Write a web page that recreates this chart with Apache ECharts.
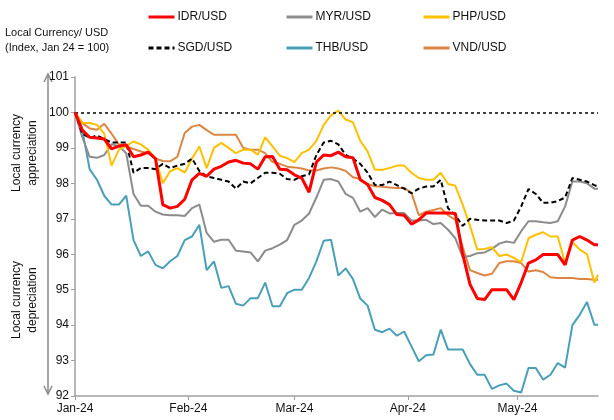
<!DOCTYPE html>
<html><head><meta charset="utf-8">
<script src="https://cdn.jsdelivr.net/npm/echarts@6/dist/echarts.min.js"></script>
<style>html,body{margin:0;padding:0;background:#fff}#c{width:614px;height:420px}</style>
</head><body><div id="c"></div>
<script>
const dates = [
 '2024-01-01','2024-01-03','2024-01-05','2024-01-07','2024-01-09','2024-01-11','2024-01-13','2024-01-15','2024-01-17','2024-01-19','2024-01-21','2024-01-23',
 '2024-01-25','2024-01-27','2024-01-29','2024-01-31','2024-02-02','2024-02-04','2024-02-06','2024-02-08','2024-02-10','2024-02-12','2024-02-14','2024-02-16',
 '2024-02-18','2024-02-20','2024-02-22','2024-02-24','2024-02-26','2024-02-28','2024-03-01','2024-03-03','2024-03-05','2024-03-07','2024-03-09','2024-03-11',
 '2024-03-13','2024-03-15','2024-03-17','2024-03-19','2024-03-21','2024-03-23','2024-03-25','2024-03-27','2024-03-29','2024-03-31','2024-04-02','2024-04-04',
 '2024-04-06','2024-04-08','2024-04-10','2024-04-12','2024-04-14','2024-04-16','2024-04-18','2024-04-20','2024-04-22','2024-04-24','2024-04-26','2024-04-28',
 '2024-04-30','2024-05-02','2024-05-04','2024-05-06','2024-05-08','2024-05-10','2024-05-12','2024-05-14','2024-05-16','2024-05-18','2024-05-20','2024-05-22',
 '2024-05-23'
];
const IDR = [
 100, 99.5, 99.3, 99.28, 99.25, 98.97, 99.05, 99.09, 98.75, 98.8, 98.88, 98.7,
 97.4, 97.3, 97.35, 97.55, 98.1, 98.28, 98.2, 98.4, 98.48, 98.6, 98.65, 98.57,
 98.55, 98.4, 98.75, 98.76, 98.4, 98.38, 98.24, 98.15, 97.75, 98.6, 98.8, 98.78,
 98.88, 98.75, 98.72, 98.1, 97.97, 97.6, 97.52, 97.4, 97.12, 97.1, 96.85, 96.97,
 97.16, 97.16, 97.16, 97.16, 97.15, 96.0, 95.15, 94.75, 94.72, 95.0, 95.0, 95.0,
 94.72, 95.2, 95.75, 95.84, 95.99, 95.99, 95.99, 95.7, 96.4, 96.5, 96.4, 96.27,
 96.27
];
const MYR = [
 100, 99.3, 98.75, 98.72, 98.8, 99.1, 99.05, 98.85, 97.7, 97.37, 97.37, 97.2,
 97.12, 97.1, 97.1, 97.08, 97.3, 97.4, 96.6, 96.35, 96.41, 96.41, 96.1, 96.08,
 96.05, 95.8, 96.1, 96.17, 96.27, 96.4, 96.83, 96.95, 97.15, 97.6, 98.1, 98.12,
 98.05, 97.7, 97.59, 97.2, 97.3, 97.05, 97.26, 97.15, 97.16, 97.16, 96.95, 96.95,
 96.97, 96.85, 96.88, 96.69, 96.45, 95.92, 95.95, 96.03, 96.05, 96.15, 96.3, 96.36,
 96.32, 96.65, 96.93, 96.93, 96.9, 96.88, 96.93, 97.35, 98.05, 98.05, 98.0, 97.85,
 97.85
];
const PHP = [
 100, 99.7, 99.7, 99.65, 99.4, 98.5, 98.95, 99.05, 99.18, 99.1, 98.95, 98.7,
 98.0, 98.34, 98.43, 98.3, 98.7, 99.04, 98.43, 99.0, 99.14, 99.0, 98.85, 98.95,
 98.95, 98.81, 99.3, 99.04, 98.78, 98.71, 98.6, 98.85, 98.95, 99.2, 99.65, 99.92,
 100.05, 99.8, 99.72, 99.2, 98.9, 98.38, 98.38, 98.43, 98.5, 98.5, 98.3, 98.15,
 98.1, 98.1, 98.3, 97.98, 97.93, 97.4, 96.8, 96.13, 96.15, 96.2, 95.95, 95.99,
 95.9, 95.78, 96.45, 96.55, 96.62, 96.5, 96.5, 95.75, 96.35, 96.13, 96.0, 95.2,
 95.42
];
const SGD = [
 100, 99.4, 99.28, 99.35, 99.25, 99.15, 99.15, 99.15, 98.3, 98.43, 98.43, 98.4,
 98.55, 98.43, 98.5, 98.55, 98.7, 98.35, 98.2, 98.15, 98.1, 98.05, 97.85, 98.05,
 98.0, 98.15, 98.3, 98.3, 98.27, 98.12, 98.1, 98.2, 98.25, 98.8, 99.15, 99.2,
 99.1, 98.8, 98.7, 98.55, 98.3, 97.95, 97.95, 98.05, 97.95, 97.85, 97.72, 97.85,
 97.91, 97.91, 98.1, 97.3, 97.1, 96.8, 97.0, 96.97, 96.95, 96.95, 96.95, 96.88,
 96.95, 97.35, 97.84, 97.7, 97.45, 97.45, 97.5, 97.6, 98.15, 98.1, 98.05, 97.95,
 97.91
];
const THB = [
 100, 99.5, 98.4, 98.1, 97.65, 97.4, 97.4, 97.65, 96.4, 95.95, 96.08, 95.7,
 95.6, 95.8, 95.95, 96.4, 96.5, 96.83, 95.55, 95.8, 95.05, 95.1, 94.6, 94.55,
 94.76, 94.76, 95.2, 94.53, 94.53, 94.9, 95.0, 95.0, 95.33, 95.8, 96.38, 96.41,
 95.4, 95.6, 95.3, 94.75, 94.55, 93.87, 93.8, 93.9, 93.7, 93.82, 93.4, 92.98,
 93.15, 93.17, 93.87, 93.31, 93.31, 93.31, 92.9, 92.6, 92.6, 92.2, 92.3, 92.35,
 92.15, 92.1, 92.79, 92.79, 92.46, 92.6, 92.93, 92.8, 94.0, 94.29, 94.65, 94.01,
 94.01
];
const VND = [
 100, 99.7, 99.55, 99.51, 99.68, 99.4, 99.1, 99.04, 98.97, 98.9, 98.85, 98.7,
 98.63, 98.62, 98.75, 99.42, 99.6, 99.65, 99.5, 99.37, 99.37, 99.37, 99.37, 99.0,
 98.95, 98.95, 98.85, 98.6, 98.55, 98.47, 98.45, 98.42, 98.36, 98.36, 98.42, 98.45,
 98.42, 98.35, 98.17, 98.12, 97.98, 97.92, 97.9, 97.88, 97.87, 97.87, 97.73, 97.1,
 97.2, 97.25, 97.3, 97.1, 96.97, 96.2, 95.55, 95.47, 95.4, 95.45, 95.75, 95.8,
 95.8, 95.75, 95.51, 95.55, 95.5, 95.35, 95.33, 95.33, 95.33, 95.3, 95.3, 95.28,
 95.28
];
const monthLabels = ['Jan-24','Feb-24','Mar-24','Apr-24','May-24'];
const seriesNames = ['IDR/USD','MYR/USD','PHP/USD','SGD/USD','THB/USD','VND/USD'];
const baseLevel = 100;

const FONT = "'Liberation Sans',Arial,sans-serif";
const pair = arr => arr.map((v, i) => [dates[i], v]);

const chart = echarts.init(document.getElementById('c'), null, {renderer: 'canvas'});

function mkLegend(name, left, top) {
  return {
    data: [name], left: left, top: top, padding: 0,
    itemWidth: 26, itemHeight: 12, itemGap: 4,
    itemStyle: {opacity: 0, borderWidth: 0},
    lineStyle: {width: 3},
    textStyle: {fontFamily: FONT, fontSize: 12, color: '#111', padding: [0, 0, 0, -2]},
    selectedMode: false
  };
}

function mkLine(name, data, color, width, type, z) {
  return {
    name: name, type: 'line', data: pair(data), showSymbol: false, symbol: 'none',
    z: z, animation: false,
    lineStyle: {color: color, width: width, type: type || 'solid'},
    itemStyle: {color: color}
  };
}

const sgd = mkLine(seriesNames[3], SGD, '#000000', 2, [5, 3], 5);
sgd.markLine = {
  silent: true, symbol: ['none', 'none'], animation: false,
  label: {show: false},
  lineStyle: {color: '#000', width: 1.5, type: [3, 3]},
  data: [{yAxis: baseLevel}]
};

const option = {
  backgroundColor: '#fff',
  animation: false,
  textStyle: {fontFamily: FONT},
  grid: {left: 75, right: 16, top: 77, bottom: 24, containLabel: false},
  legend: [
    mkLegend(seriesNames[0], 147, 11),
    mkLegend(seriesNames[1], 285, 11),
    mkLegend(seriesNames[2], 422, 11),
    mkLegend(seriesNames[3], 147, 42),
    mkLegend(seriesNames[4], 285, 42),
    mkLegend(seriesNames[5], 422, 42)
  ],
  xAxis: {
    type: 'time',
    min: '2024-01-01', max: '2024-05-23',
    minInterval: 28 * 86400000, maxInterval: 31 * 86400000,
    splitNumber: 5,
    axisLine: {lineStyle: {color: '#a0a0a0', width: 1.5}},
    axisTick: {show: true, length: 4, lineStyle: {color: '#a0a0a0'}},
    splitLine: {show: false},
    minorTick: {show: false},
    axisLabel: {
      fontFamily: FONT, fontSize: 12, color: '#111', margin: 7,
      showMinLabel: true, showMaxLabel: false,
      formatter: function (v) { const d = new Date(v); return monthLabels[d.getMonth()]; }
    }
  },
  yAxis: {
    type: 'value', min: 92, max: 101, interval: 1,
    axisLine: {show: true, lineStyle: {color: '#a0a0a0', width: 1.5}},
    axisTick: {show: true, length: 4, lineStyle: {color: '#a0a0a0'}},
    splitLine: {show: false},
    axisLabel: {fontFamily: FONT, fontSize: 12, color: '#111', margin: 6}
  },
  graphic: [
    {type: 'text', left: 5, top: 27, style: {text: 'Local Currency/ USD', font: "11px 'Liberation Sans',Arial,sans-serif", fill: '#111'}},
    {type: 'text', left: 5, top: 42, style: {text: '(Index, Jan 24 = 100)', font: "11px 'Liberation Sans',Arial,sans-serif", fill: '#111'}},
    {type: 'text', x: 25, y: 153, rotation: Math.PI / 2,
      style: {text: 'Local currency\nappreciation', align: 'center', verticalAlign: 'middle', lineHeight: 16,
        font: "12px 'Liberation Sans',Arial,sans-serif", fill: '#111'}},
    {type: 'text', x: 25, y: 300, rotation: Math.PI / 2,
      style: {text: 'Local currency\ndepreciation', align: 'center', verticalAlign: 'middle', lineHeight: 16,
        font: "12px 'Liberation Sans',Arial,sans-serif", fill: '#111'}},
    {type: 'line', shape: {x1: 48, y1: 74, x2: 48, y2: 394}, style: {stroke: '#8a8a8a', lineWidth: 1.5}},
    {type: 'polyline', shape: {points: [[44, 82], [48, 74], [52, 82]]}, style: {stroke: '#8a8a8a', lineWidth: 1.5, fill: null}},
    {type: 'polyline', shape: {points: [[44, 386], [48, 394], [52, 386]]}, style: {stroke: '#8a8a8a', lineWidth: 1.5, fill: null}}
  ],
  series: [
    mkLine(seriesNames[4], THB, '#4a9fb8', 2, 'solid', 2),
    mkLine(seriesNames[5], VND, '#dd8644', 2, 'solid', 2),
    mkLine(seriesNames[1], MYR, '#8c8c8c', 2, 'solid', 3),
    mkLine(seriesNames[2], PHP, '#ffc000', 2, 'solid', 3),
    sgd,
    mkLine(seriesNames[0], IDR, '#ff0000', 3, 'solid', 6)
  ]
};
chart.setOption(option);
</script></body></html>
